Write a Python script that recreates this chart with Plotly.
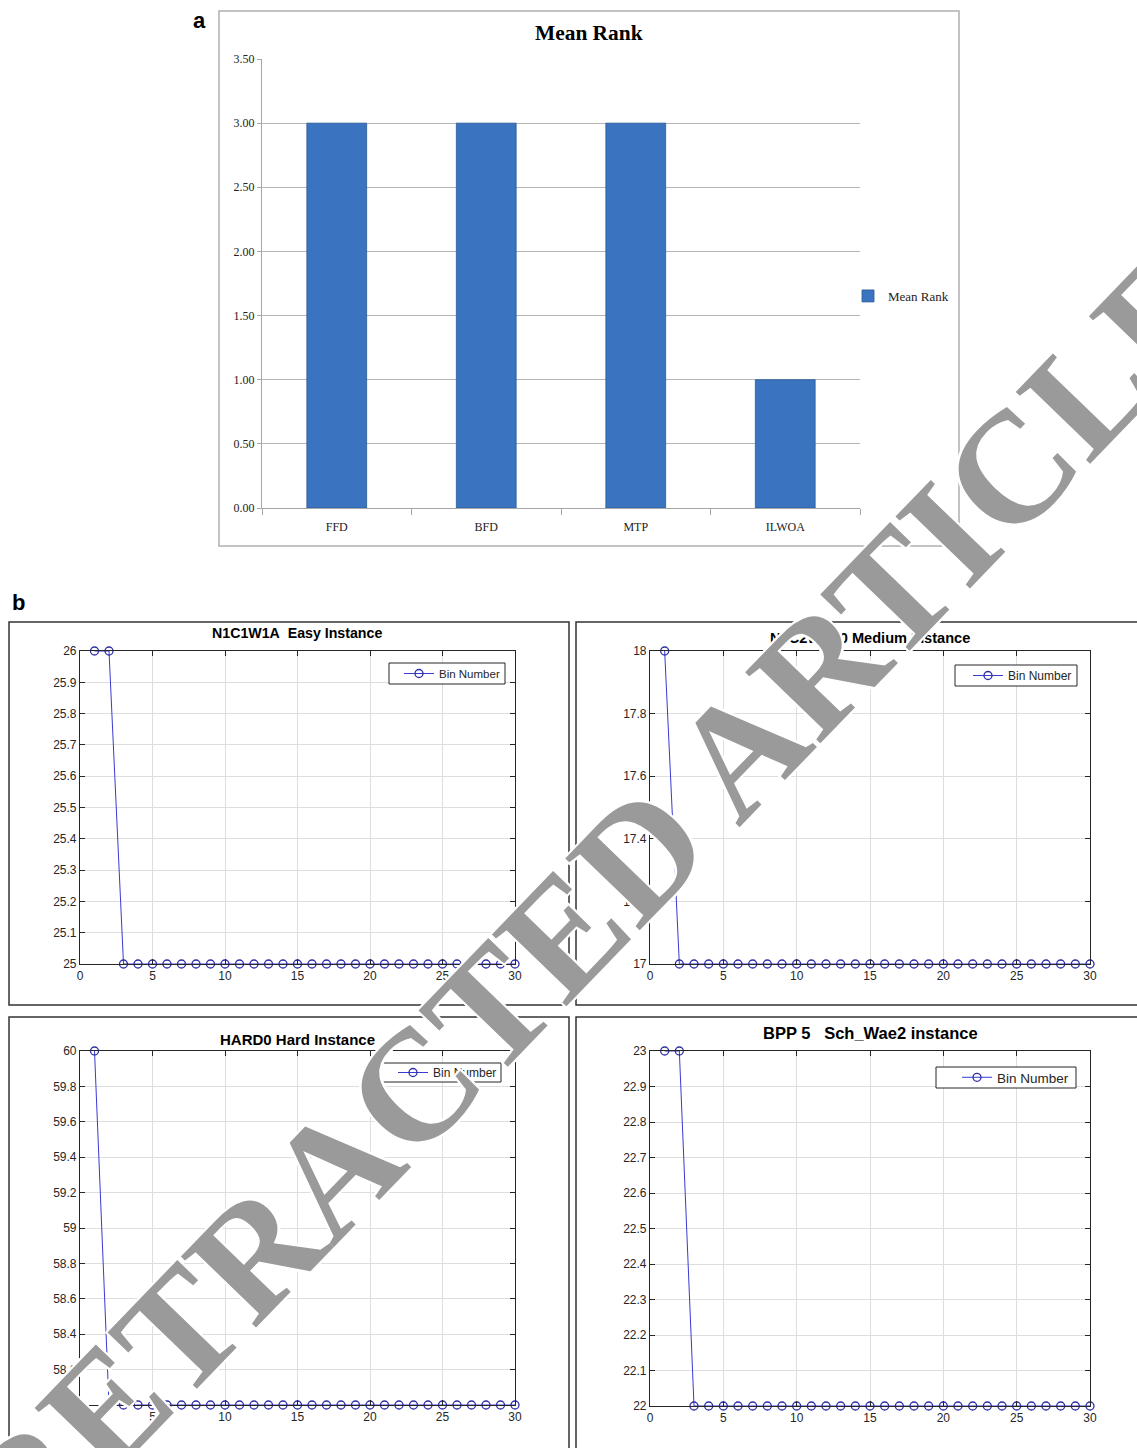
import plotly.graph_objects as go

W, H = 1137, 1448

# ---- panel a: mean rank of the packing heuristics ----
methods = ["FFD", "BFD", "MTP", "ILWOA"]
mean_rank = [3.00, 3.00, 3.00, 1.00]

# ---- panel b: bin number per iteration on four benchmark instances ----
iterations = [1, 2, 3, 4, 5, 6, 7, 8, 9, 10, 11, 12, 13, 14, 15,
              16, 17, 18, 19, 20, 21, 22, 23, 24, 25, 26, 27, 28, 29, 30]
bins_easy = [26, 26, 25, 25, 25, 25, 25, 25, 25, 25, 25, 25, 25, 25, 25,
             25, 25, 25, 25, 25, 25, 25, 25, 25, 25, 25, 25, 25, 25, 25]
bins_medium = [18, 17, 17, 17, 17, 17, 17, 17, 17, 17, 17, 17, 17, 17, 17,
               17, 17, 17, 17, 17, 17, 17, 17, 17, 17, 17, 17, 17, 17, 17]
bins_hard = [60, 58, 58, 58, 58, 58, 58, 58, 58, 58, 58, 58, 58, 58, 58,
             58, 58, 58, 58, 58, 58, 58, 58, 58, 58, 58, 58, 58, 58, 58]
bins_sch = [23, 23, 22, 22, 22, 22, 22, 22, 22, 22, 22, 22, 22, 22, 22,
            22, 22, 22, 22, 22, 22, 22, 22, 22, 22, 22, 22, 22, 22, 22]

titles = ["N1C1W1A\u00a0\u00a0Easy Instance",
          "N1C2W2R0 Medium Instance",
          "HARD0 Hard Instance",
          "BPP 5\u00a0\u00a0\u00a0Sch_Wae2 instance"]
y_ranges = [[25, 26], [17, 18], [58, 60], [22, 23]]
y_steps = [0.1, 0.2, 0.2, 0.1]


def px(x):
    return x / W


def py(y):
    return 1 - y / H


fig = go.Figure()

# bars
fig.add_trace(go.Bar(
    x=methods, y=mean_rank, name="Mean Rank", width=0.4,
    marker=dict(color="#3a73c0", line=dict(color="#2b5a98", width=0.8)),
    xaxis="x", yaxis="y", legend="legend", showlegend=True,
))

serif = "Liberation Serif, Times New Roman, serif"
sans = "Liberation Sans, Arial, sans-serif"
axis_col = "#262626"

layout = dict(
    width=W, height=H,
    margin=dict(l=0, r=0, t=0, b=0, autoexpand=False),
    paper_bgcolor="white", plot_bgcolor="white",
    xaxis=dict(domain=[px(262), px(860)], anchor="y", automargin=False,
               showline=True, linecolor="#a6a6a6", linewidth=1,
               ticks="outside", tickson="boundaries", ticklen=6, tickcolor="#a6a6a6",
               ticklabelstandoff=8,
               tickfont=dict(family=serif, size=12, color="#222"),
               showgrid=False),
    yaxis=dict(domain=[py(508), py(59)], anchor="x", range=[0, 3.5], automargin=False,
               dtick=0.5, tickformat=".2f",
               showline=True, linecolor="#a6a6a6", linewidth=1,
               ticks="outside", ticklen=4, tickcolor="#a6a6a6",
               tickfont=dict(family=serif, size=12, color="#222"),
               showgrid=True, gridcolor="#b5b5b5", gridwidth=1, zeroline=False),
    legend=dict(x=px(848), y=py(296), xanchor="left", yanchor="middle",
                font=dict(family=serif, size=13, color="#222"),
                bgcolor="rgba(0,0,0,0)", itemwidth=30),
)

# subplot placement: (x left, x right, y top, y bottom) in pixels
plot_boxes = [(80, 515, 651, 964), (650, 1090, 651, 964),
              (80, 515, 1051, 1405), (650, 1090, 1051, 1406)]
# legend frames: (x left, x right, y top, y bottom), text start, font size
legend_boxes = [(389, 505, 663, 684), (955, 1077, 665, 686),
                (381, 501, 1063, 1082), (936, 1076, 1067, 1088)]
legend_text_x = [439, 1008, 433, 997]
legend_font = [11.5, 12, 12, 13.5]
title_pos = [(297, 633), (870, 638), (297, 1039), (870, 1033)]
title_size = [14.2, 14.6, 15, 16.5]
series = [bins_easy, bins_medium, bins_hard, bins_sch]

shapes = [
    # frame around panel a
    dict(type="rect", xref="paper", yref="paper",
         x0=px(219), x1=px(959), y0=py(546), y1=py(11),
         line=dict(color="#b0b0b0", width=1.5), layer="below"),
]
frames = [(9, 569, 622, 1005), (576, 1145, 622, 1005),
          (9, 569, 1017, 1455), (576, 1145, 1017, 1455)]
for x0, x1, y0, y1 in frames:
    shapes.append(dict(type="rect", xref="paper", yref="paper",
                       x0=px(x0), x1=px(x1), y0=py(y1), y1=py(y0),
                       line=dict(color="#333333", width=1.5), layer="below"))

for i in range(4):
    n = i + 2
    xl, xr, yt, yb = plot_boxes[i]
    lg = f"legend{n}"
    fig.add_trace(go.Scatter(
        x=iterations, y=series[i], mode="lines+markers", name="Bin Number",
        line=dict(color="#3a3ad2", width=1),
        marker=dict(symbol="circle-open", size=8, color="#2e2ea6",
                    line=dict(width=1.3, color="#2e2ea6")),
        xaxis=f"x{n}", yaxis=f"y{n}", legend=lg, showlegend=True,
        cliponaxis=False,
    ))
    layout[f"xaxis{n}"] = dict(
        domain=[px(xl), px(xr)], anchor=f"y{n}", range=[0, 30], automargin=False,
        tickvals=[0, 5, 10, 15, 20, 25, 30],
        showline=True, mirror="ticks", linecolor=axis_col, linewidth=1.2,
        ticks="inside", ticklen=5, tickcolor=axis_col,
        tickfont=dict(family=sans, size=12, color=axis_col),
        showgrid=True, gridcolor="#dedede", gridwidth=1, zeroline=False)
    layout[f"yaxis{n}"] = dict(
        domain=[py(yb), py(yt)], anchor=f"x{n}", range=y_ranges[i], automargin=False,
        tick0=y_ranges[i][0], dtick=y_steps[i],
        showline=True, mirror="ticks", linecolor=axis_col, linewidth=1.2,
        ticks="inside", ticklen=5, tickcolor=axis_col,
        tickfont=dict(family=sans, size=12, color=axis_col),
        showgrid=True, gridcolor="#dedede", gridwidth=1, zeroline=False)
    bx0, bx1, by0, by1 = legend_boxes[i]
    # boxed legend in the MATLAB style: frame drawn as a shape, entries on top
    shapes.append(dict(type="rect", xref="paper", yref="paper",
                       x0=px(bx0), x1=px(bx1), y0=py(by1), y1=py(by0),
                       fillcolor="white", line=dict(color=axis_col, width=1),
                       layer="above"))
    layout[lg] = dict(x=px(legend_text_x[i] - 40), y=py((by0 + by1) / 2),
                      xanchor="left", yanchor="middle",
                      bgcolor="rgba(0,0,0,0)", borderwidth=0,
                      font=dict(family=sans, size=legend_font[i], color=axis_col),
                      itemwidth=30)

fig.update_layout(**layout)
fig.update_layout(shapes=shapes)


def paper_text(text, x, y, font, **kw):
    kw.setdefault("xanchor", "center")
    kw.setdefault("yanchor", "middle")
    return dict(text=text, x=px(x), y=py(y), xref="paper", yref="paper",
                showarrow=False, font=font, **kw)


annotations = [
    paper_text("a", 199, 20, dict(family=sans, size=22, color="black", weight="bold")),
    paper_text("b", 18, 603, dict(family=sans, size=22, color="black", weight="bold")),
    paper_text("Mean Rank", 589, 33, dict(family=serif, size=21.4, color="black", weight="bold")),
]
for i in range(4):
    tx, ty = title_pos[i]
    annotations.append(paper_text(titles[i], tx, ty,
                                  dict(family=sans, size=title_size[i], color="black",
                                       weight="bold")))

# retraction stamp across the figure
annotations.append(paper_text(
    "RETRACTED ARTICLE", 592, 902,
    dict(family=serif, size=158, color="#9a9a9a", weight="bold",
         shadow="2px 2px 0 #fff, -2px -2px 0 #fff, 2px -2px 0 #fff, -2px 2px 0 #fff"),
    textangle=-46,
))
fig.update_layout(annotations=annotations)

fig.write_html("out.html")
